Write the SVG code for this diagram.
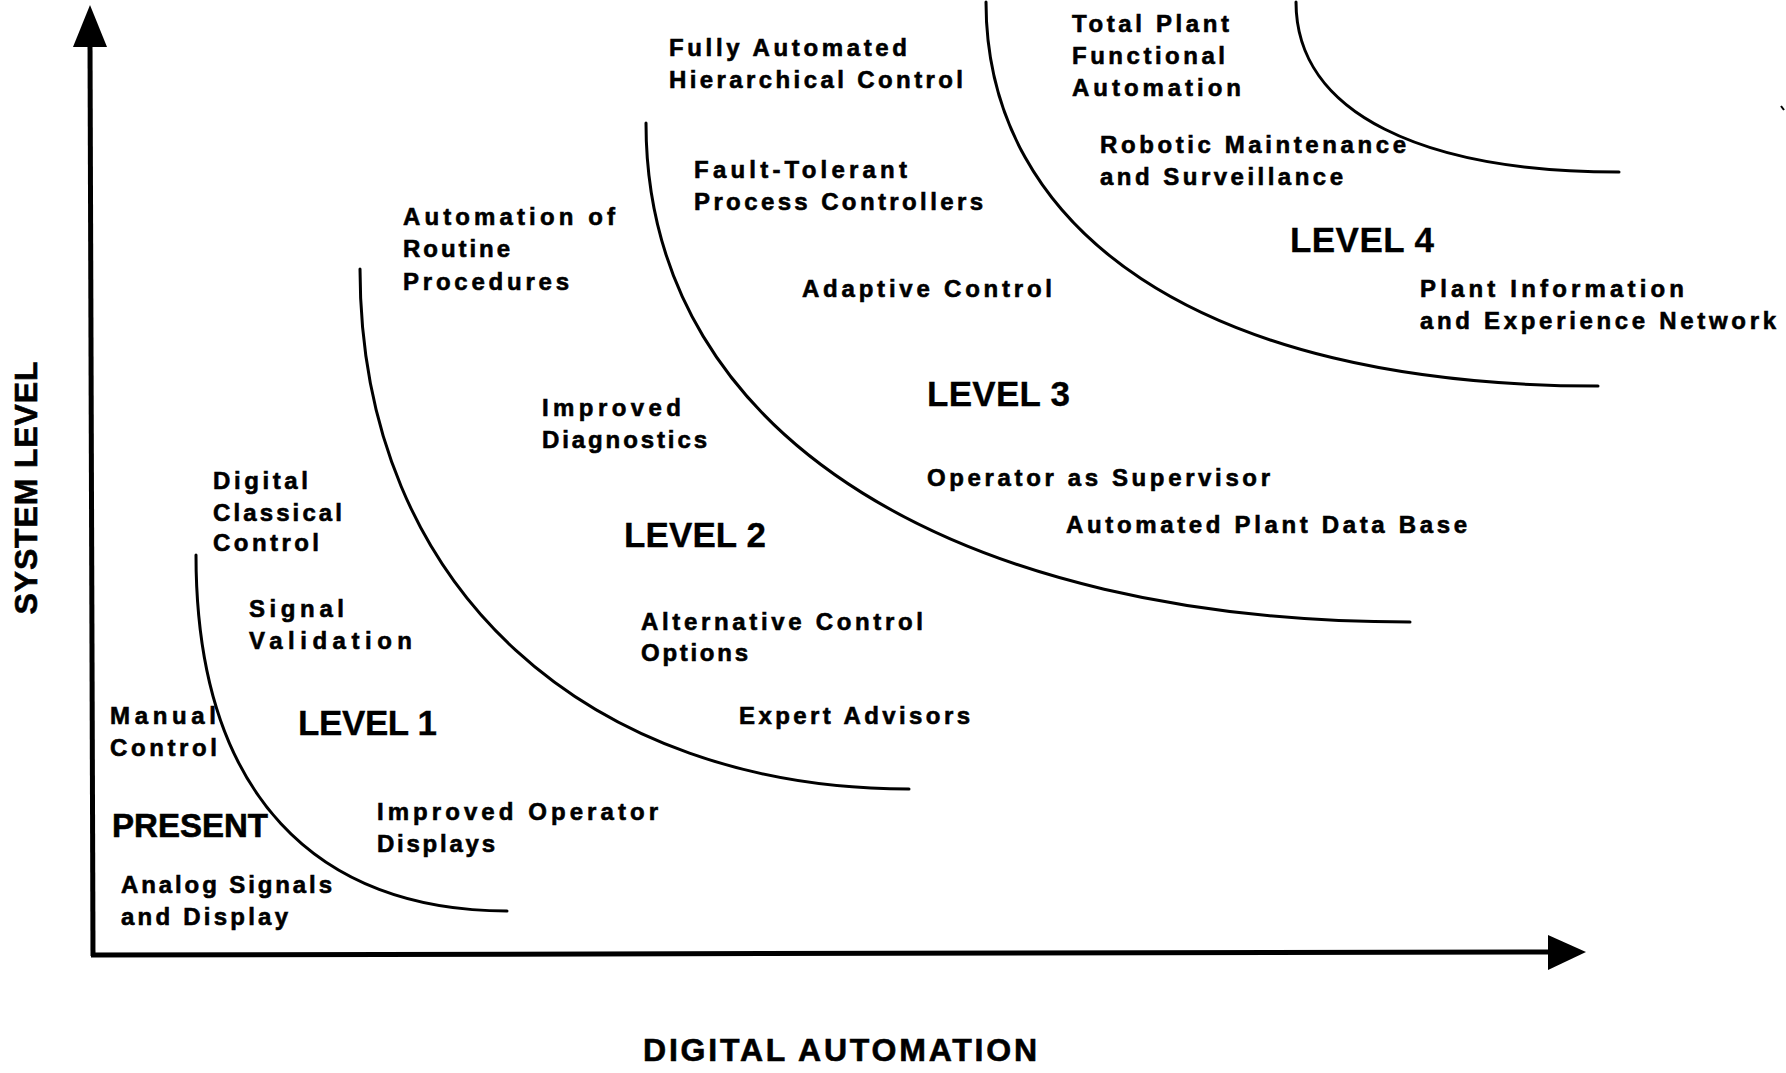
<svg xmlns="http://www.w3.org/2000/svg" width="1786" height="1073" viewBox="0 0 1786 1073">
<style>
  text { font-family: "Liberation Sans", Arial, sans-serif; font-weight: bold; fill: #000; stroke: #000; stroke-width: 0.6; }
  .s { font-size: 24px; }
  .lv { font-size: 35px; stroke-width: 0.3; }
  .big { font-size: 33px; }
  .ax { font-size: 32px; }
  .curve { fill: none; stroke: #000; stroke-width: 3; stroke-linecap: round; }
  .axis { fill: none; stroke: #000; stroke-width: 5; }
</style>
<rect width="1786" height="1073" fill="#fff"/>

<g id="axes">
  <line class="axis" x1="90" y1="40" x2="93" y2="956"/>
  <polygon points="90,5 73,47 107,47" fill="#000"/>
  <line class="axis" x1="91" y1="955" x2="1552" y2="952"/>
  <polygon points="1586,952 1548,935 1548,970" fill="#000"/>
  <line x1="1781" y1="106" x2="1784" y2="110" stroke="#000" stroke-width="2"/>
</g>

<g id="connectors">
  <path class="curve" d="M196,555 C196,797 319,911 507,911"/>
  <path class="curve" d="M360,269 C360,592 592,789 909,789"/>
  <path class="curve" d="M646,123 C646,444 968,622 1410,622"/>
  <path class="curve" d="M986,2 C986,228 1196,386 1598,386"/>
  <path class="curve" d="M1296,2 C1296,114 1424,172 1619,172"/>
</g>

<g id="axis-labels">
  <text class="ax" x="643" y="1061" textLength="394" lengthAdjust="spacing">DIGITAL AUTOMATION</text>
  <text class="ax" transform="translate(37,488) rotate(-90)" text-anchor="middle" textLength="253" lengthAdjust="spacing">SYSTEM LEVEL</text>
</g>

<g id="present">
  <text class="big" x="112" y="837" textLength="156" lengthAdjust="spacing">PRESENT</text>
  <text class="s" x="110" y="724" textLength="106" lengthAdjust="spacing">Manual</text>
  <text class="s" x="110" y="756" textLength="107" lengthAdjust="spacing">Control</text>
  <text class="s" x="121" y="893" textLength="211" lengthAdjust="spacing">Analog Signals</text>
  <text class="s" x="121" y="925" textLength="167" lengthAdjust="spacing">and Display</text>
</g>

<g id="level1">
  <text class="lv" x="298" y="735" textLength="139" lengthAdjust="spacing">LEVEL 1</text>
  <text class="s" x="213" y="489" textLength="95" lengthAdjust="spacing">Digital</text>
  <text class="s" x="213" y="521" textLength="129" lengthAdjust="spacing">Classical</text>
  <text class="s" x="213" y="551" textLength="106" lengthAdjust="spacing">Control</text>
  <text class="s" x="249" y="617" textLength="95" lengthAdjust="spacing">Signal</text>
  <text class="s" x="249" y="649" textLength="163" lengthAdjust="spacing">Validation</text>
  <text class="s" x="377" y="820" textLength="281" lengthAdjust="spacing">Improved Operator</text>
  <text class="s" x="377" y="852" textLength="118" lengthAdjust="spacing">Displays</text>
</g>

<g id="level2">
  <text class="lv" x="624" y="547" textLength="142" lengthAdjust="spacing">LEVEL 2</text>
  <text class="s" x="403" y="225" textLength="212" lengthAdjust="spacing">Automation of</text>
  <text class="s" x="403" y="257" textLength="107" lengthAdjust="spacing">Routine</text>
  <text class="s" x="403" y="290" textLength="166" lengthAdjust="spacing">Procedures</text>
  <text class="s" x="542" y="416" textLength="139" lengthAdjust="spacing">Improved</text>
  <text class="s" x="542" y="448" textLength="165" lengthAdjust="spacing">Diagnostics</text>
  <text class="s" x="641" y="630" textLength="282" lengthAdjust="spacing">Alternative Control</text>
  <text class="s" x="641" y="661" textLength="107" lengthAdjust="spacing">Options</text>
  <text class="s" x="739" y="724" textLength="231" lengthAdjust="spacing">Expert Advisors</text>
</g>

<g id="level3">
  <text class="lv" x="927" y="406" textLength="143" lengthAdjust="spacing">LEVEL 3</text>
  <text class="s" x="669" y="56" textLength="238" lengthAdjust="spacing">Fully Automated</text>
  <text class="s" x="669" y="88" textLength="294" lengthAdjust="spacing">Hierarchical Control</text>
  <text class="s" x="694" y="178" textLength="213" lengthAdjust="spacing">Fault-Tolerant</text>
  <text class="s" x="694" y="210" textLength="289" lengthAdjust="spacing">Process Controllers</text>
  <text class="s" x="802" y="297" textLength="250" lengthAdjust="spacing">Adaptive Control</text>
  <text class="s" x="927" y="486" textLength="343" lengthAdjust="spacing">Operator as Supervisor</text>
  <text class="s" x="1066" y="533" textLength="401" lengthAdjust="spacing">Automated Plant Data Base</text>
</g>

<g id="level4">
  <text class="lv" x="1290" y="252" textLength="144" lengthAdjust="spacing">LEVEL 4</text>
  <text class="s" x="1072" y="32" textLength="157" lengthAdjust="spacing">Total Plant</text>
  <text class="s" x="1072" y="64" textLength="153" lengthAdjust="spacing">Functional</text>
  <text class="s" x="1072" y="96" textLength="169" lengthAdjust="spacing">Automation</text>
  <text class="s" x="1100" y="153" textLength="306" lengthAdjust="spacing">Robotic Maintenance</text>
  <text class="s" x="1100" y="185" textLength="243" lengthAdjust="spacing">and Surveillance</text>
  <text class="s" x="1420" y="297" textLength="264" lengthAdjust="spacing">Plant Information</text>
  <text class="s" x="1420" y="329" textLength="356" lengthAdjust="spacing">and Experience Network</text>
</g>
</svg>
